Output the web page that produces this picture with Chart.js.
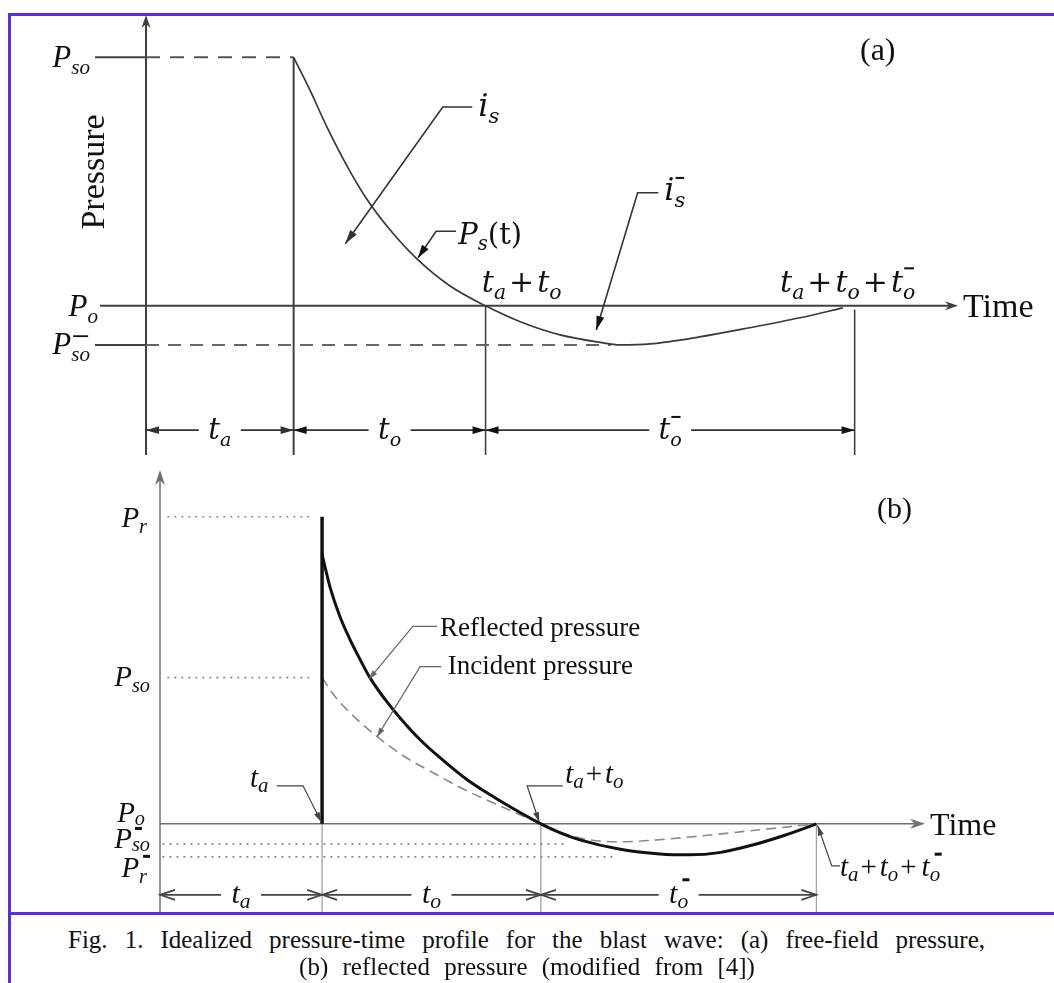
<!DOCTYPE html>
<html><head><meta charset="utf-8">
<script src="https://cdn.jsdelivr.net/npm/chart.js@4.4.1/dist/chart.umd.min.js"></script>
<style>
html,body{margin:0;padding:0;background:#fff;}
#wrap{position:relative;width:1054px;height:983px;overflow:hidden;background:#fff;}
canvas{position:absolute;left:0;}
.fr{position:absolute;background:#5b2ee6;}
.cap{position:absolute;font-family:"Liberation Serif","Times New Roman",serif;font-size:25px;line-height:28px;color:#111;white-space:nowrap;}
.pre{position:absolute;left:-999px;top:0;font-size:20px;}
</style></head><body>
<div id="wrap">
<span class="pre" style="font-family:'Liberation Serif'">Aa</span>
<span class="pre" style="font-family:'Liberation Serif';font-style:italic">Aa</span>
<span class="pre" style="font-family:'DejaVu Serif'">Aa</span>
<span class="pre" style="font-family:'DejaVu Serif';font-style:italic">Aa</span>
<canvas id="ca" width="1054" height="470" style="top:0"></canvas>
<canvas id="cb" width="1054" height="460" style="top:460px"></canvas>
<div class="fr" style="left:8px;top:13px;width:1046px;height:3px"></div>
<div class="fr" style="left:8px;top:13px;width:3px;height:970px"></div>
<div class="fr" style="left:8px;top:912px;width:1046px;height:3px"></div>
<div class="cap" id="cap1" style="left:68px;top:926px;width:917px;text-align:justify;text-align-last:justify;white-space:normal">Fig. 1. Idealized pressure-time profile for the blast wave: (a) free-field pressure,</div>
<div class="cap" id="cap2" style="left:0;top:953px;width:1054px;text-align:center;word-spacing:8px">(b) reflected pressure (modified from [4])</div>
</div>
<script>
// ---------------- DATA: panel (a) free-field ----------------
const A_X = [0, 11];            // time range (arbitrary units)
const A_Y = [-0.6, 1.17];       // pressure range (P_so = 1)
const A_TA = 2.0, A_TO = 2.6, A_TON = 5.0;
const A_PSO = 1.0, A_PSON = -0.157, A_DASH_END = 6.3;
const A_T = [2.0, 2.22, 2.45, 2.76, 2.99, 3.305, 3.67, 4.12, 4.6, 5.07, 5.61, 6.15, 6.42, 6.83, 7.5, 8.18, 8.86, 9.44];
const A_P = [1.0, 0.869, 0.72, 0.543, 0.43, 0.306, 0.189, 0.08, 0.0, -0.064, -0.117, -0.147, -0.157, -0.153, -0.125, -0.088, -0.048, -0.008];

// ---------------- DATA: panel (b) reflected ----------------
const B_X = [0, 9.44];
const B_Y = [-0.61, 2.42];
const B_TA = 2.0, B_TO = 2.7, B_TON = 3.4;
const B_PR = 2.1, B_PSO = 1.0, B_PSON = -0.137, B_PRN = -0.226;
const B_PSON_END = 5.0, B_PRN_END = 5.6;
const B_REF_T = [2.0, 2.10, 2.22, 2.345, 2.47, 2.59, 2.78, 2.96, 3.21, 3.455, 3.79, 4.195, 4.7, 4.94, 5.18, 5.68, 6.17, 6.54, 6.9, 7.3, 7.7, 8.1];
const B_REF_P = [1.842, 1.616, 1.418, 1.26, 1.123, 1.0, 0.849, 0.726, 0.575, 0.452, 0.301, 0.158, 0.0, -0.062, -0.11, -0.174, -0.206, -0.212, -0.197, -0.147, -0.08, 0.0];
const B_INC_T = [2.0, 2.16, 2.345, 2.68, 3.02, 3.37, 3.76, 4.195, 4.7, 5.0, 5.31, 5.68, 6.42, 7.28, 8.1];
const B_INC_P = [1.0, 0.87, 0.76, 0.596, 0.459, 0.349, 0.233, 0.123, 0.0, -0.068, -0.11, -0.123, -0.096, -0.048, 0.0];

// ---------------- helpers ----------------
const SERIF = '"Liberation Serif","Times New Roman",serif';
const DJ = '"DejaVu Serif",serif';
function seg(ctx, x1, y1, x2, y2){ctx.beginPath();ctx.moveTo(x1,y1);ctx.lineTo(x2,y2);ctx.stroke();}
function poly(ctx, pts){ctx.beginPath();ctx.moveTo(pts[0][0],pts[0][1]);for(let i=1;i<pts.length;i++)ctx.lineTo(pts[i][0],pts[i][1]);ctx.stroke();}
function head(ctx, x1, y1, x2, y2, len, hw, style){
  const a=Math.atan2(y2-y1,x2-x1), c=Math.cos(a), s=Math.sin(a);
  const bx=x2-len*c, by=y2-len*s, px=-s*hw, py=c*hw;
  ctx.beginPath();
  if(style==='open'){ctx.moveTo(bx+px,by+py);ctx.lineTo(x2,y2);ctx.lineTo(bx-px,by-py);ctx.stroke();return;}
  ctx.moveTo(x2,y2);ctx.lineTo(bx+px,by+py);
  if(style==='concave'){ctx.lineTo(x2-len*0.7*c,y2-len*0.7*s);}
  ctx.lineTo(bx-px,by-py);ctx.closePath();ctx.fill();
}
function mtext(ctx, x, y, spec, o){
  const size=o.size, fam=o.fam||SERIF, ss=size*(o.subScale||0.68), sdy=size*(o.subDy||0.22);
  const parts=spec.map(s=>{const i=s.indexOf(':');return {k:s.slice(0,i),t:s.slice(i+1)};});
  let w=0;
  for(const p of parts){
    if(p.k==='g'){p.w=+p.t;p.skip=true;}
    else{
      p.bar=p.k.indexOf('^')>=0; const k=p.k.replace('^','');
      p.font = k==='r' ? size+'px '+fam : k==='s' ? 'italic '+ss+'px '+fam : 'italic '+size+'px '+fam;
      p.dy = k==='s' ? sdy : 0;
      ctx.font=p.font; p.w=ctx.measureText(p.t).width;
    }
    p.x=w; w+=p.w;
  }
  const x0 = o.align==='right' ? x-w : o.align==='center' ? x-w/2 : x;
  ctx.fillStyle=o.color||'#111'; ctx.textAlign='left'; ctx.textBaseline='alphabetic';
  for(const p of parts){
    if(p.skip) continue;
    ctx.font=p.font; ctx.fillText(p.t,x0+p.x,y+p.dy);
    if(p.bar){
      const bw=o.barW||p.w*0.8;
      const bx=x0+p.x+(o.barX!=null?o.barX:(p.w-bw)/2);
      ctx.fillRect(bx, y-size*(o.barY||0.62), bw, o.barT||1.6);
    }
  }
  return w;
}
function dim(ctx, xa, xb, y, spec, o){
  const xc=(xa+xb)/2, g=o.gap;
  seg(ctx, xa, y, xc-g, y); seg(ctx, xc+g, y, xb, y);
  head(ctx, xc, y, xa, y, o.len, o.hw, o.style);
  head(ctx, xc, y, xb, y, o.len, o.hw, o.style);
  mtext(ctx, xc, y+o.ty, spec, Object.assign({align:'center'}, o.txt));
}
function rotText(ctx, x, y, t, font, color){
  ctx.save(); ctx.translate(x,y); ctx.rotate(-Math.PI/2);
  ctx.font=font; ctx.fillStyle=color; ctx.textAlign='center'; ctx.textBaseline='middle';
  ctx.fillText(t,0,0); ctx.restore();
}
function pts(T,P){return T.map((t,i)=>({x:t,y:P[i]}));}

// ---------------- panel (a) decorations ----------------
const annA = {
  id:'annA',
  beforeDatasetsDraw(c){
    const ctx=c.ctx, X=v=>c.scales.x.getPixelForValue(v), Y=v=>c.scales.y.getPixelForValue(v);
    ctx.save(); const ink='#404040'; ctx.strokeStyle=ink; ctx.fillStyle=ink; ctx.lineWidth=2;
    const x0=X(0), yb=Y(A_Y[0]), yt=Y(A_Y[1]), y0=Y(0);
    seg(ctx,x0,yb,x0,yt+6); head(ctx,x0,yb,x0,yt,13,4.5,'concave');
    seg(ctx,x0-46,y0,X(A_X[1])-6,y0); head(ctx,x0,y0,X(A_X[1]),y0,13,4.5,'concave');
    seg(ctx,x0-51,Y(A_PSO),x0,Y(A_PSO));
    seg(ctx,x0-51,Y(A_PSON),x0,Y(A_PSON));
    ctx.lineWidth=2; seg(ctx,X(A_TA),Y(A_PSO),X(A_TA),yb);
    ctx.lineWidth=1.6; seg(ctx,X(A_TA+A_TO),y0,X(A_TA+A_TO),yb);
    seg(ctx,X(A_TA+A_TO+A_TON),Y(-0.015),X(A_TA+A_TO+A_TON),yb);
    ctx.restore();
  },
  afterDatasetsDraw(c){
    const ctx=c.ctx, X=v=>c.scales.x.getPixelForValue(v), Y=v=>c.scales.y.getPixelForValue(v);
    ctx.save(); const ink='#333'; ctx.strokeStyle=ink; ctx.fillStyle=ink; ctx.lineWidth=1.6;
    const x0=X(0), txt='#111';
    mtext(ctx,x0-56,Y(A_PSO)+10,['i:P','s:so'],{size:31,align:'right',color:txt});
    mtext(ctx,x0-48,Y(0)+10,['i:P','s:o'],{size:31,align:'right',color:txt});
    mtext(ctx,x0-56,Y(A_PSON)+9,['i:P','s^:so'],{size:31,align:'right',color:txt,barY:0.6,barW:15,barT:1.8});
    rotText(ctx,95,172,'Pressure','34px '+SERIF,txt);
    ctx.font='34px '+SERIF; ctx.fillStyle=txt; ctx.textAlign='left'; ctx.textBaseline='alphabetic';
    ctx.fillText('Time',X(A_X[1])+5,Y(0)+11);
    ctx.font='32px '+SERIF; ctx.fillText('(a)',860,60);
    ctx.fillStyle=ink; ctx.strokeStyle=ink; ctx.lineWidth=1.6;
    const yd=Y(-0.5), dopt={gap:21,len:13,hw:3.8,style:'fill',ty:9,txt:{size:29,fam:DJ,color:txt,subScale:0.66,subDy:0.25,barY:0.8,barT:2}};
    dim(ctx,X(0),X(A_TA),yd,['i:t','s:a'],dopt);
    dim(ctx,X(A_TA),X(A_TA+A_TO),yd,['i:t','s:o'],dopt);
    dim(ctx,X(A_TA+A_TO),X(A_TA+A_TO+A_TON),yd,['i:t','s^:o'],dopt);
    ctx.fillStyle=ink;
    let L=[[X(4.42),Y(0.80)],[X(4.02),Y(0.80)],[X(2.70),Y(0.25)]];
    poly(ctx,L); head(ctx,L[1][0],L[1][1],L[2][0],L[2][1],14,4,'fill');
    mtext(ctx,X(4.50),Y(0.764),['i:i','s:s'],{size:32,fam:DJ,color:txt,subScale:0.66});
    L=[[X(4.20),Y(0.30)],[X(3.93),Y(0.30)],[X(3.685),Y(0.193)]];
    poly(ctx,L); head(ctx,L[1][0],L[1][1],L[2][0],L[2][1],13,4,'fill');
    mtext(ctx,X(4.23),Y(0.25),['i:P','s:s','r:(t)'],{size:29,fam:DJ,color:txt,subScale:0.68});
    L=[[X(6.94),Y(0.455)],[X(6.66),Y(0.455)],[X(6.10),Y(-0.097)]];
    poly(ctx,L); head(ctx,L[1][0],L[1][1],L[2][0],L[2][1],14,4,'fill');
    mtext(ctx,X(7.02),Y(0.426),['i:i','s^:s'],{size:32,fam:DJ,color:txt,subScale:0.66,barY:0.72,barT:2});
    mtext(ctx,X(4.55),Y(0.056),['i:t','s:a','g:3','r:+','g:3','i:t','s:o'],{size:30,fam:DJ,color:txt,subScale:0.68});
    mtext(ctx,X(8.59),Y(0.056),['i:t','s:a','g:3','r:+','g:3','i:t','s:o','g:3','r:+','g:3','i:t','s^:o'],{size:30,fam:DJ,color:txt,subScale:0.68,barY:0.82,barT:2});
    ctx.restore();
  }
};

// ---------------- panel (b) decorations ----------------
const annB = {
  id:'annB',
  beforeDatasetsDraw(c){
    const ctx=c.ctx, X=v=>c.scales.x.getPixelForValue(v), Y=v=>c.scales.y.getPixelForValue(v);
    ctx.save(); const ax='#707070'; ctx.strokeStyle=ax; ctx.fillStyle=ax; ctx.lineWidth=1.5;
    const x0=X(0), yb=Y(B_Y[0]), yt=Y(B_Y[1]), y0=Y(0);
    seg(ctx,x0,yb,x0,yt+6); head(ctx,x0,yb,x0,yt,15,5,'concave');
    seg(ctx,x0,y0,X(B_X[1])-6,y0); head(ctx,x0,y0,X(B_X[1]),y0,15,5,'concave');
    ctx.strokeStyle='#a0a0a0'; ctx.lineWidth=1.3;
    seg(ctx,X(B_TA),y0,X(B_TA),yb);
    seg(ctx,X(B_TA+B_TO),y0,X(B_TA+B_TO),yb);
    seg(ctx,X(B_TA+B_TO+B_TON),y0,X(B_TA+B_TO+B_TON),yb);
    ctx.restore();
  },
  afterDatasetsDraw(c){
    const ctx=c.ctx, X=v=>c.scales.x.getPixelForValue(v), Y=v=>c.scales.y.getPixelForValue(v);
    ctx.save(); const txt='#111', x0=X(0);
    mtext(ctx,x0-13,Y(B_PR)+10,['i:P','s:r'],{size:29,align:'right',color:txt,subScale:0.7});
    mtext(ctx,x0-10,Y(B_PSO)+8,['i:P','s:so'],{size:29,align:'right',color:txt,subScale:0.7});
    mtext(ctx,x0-15,Y(0)-2,['i:P','s:o'],{size:29,align:'right',color:txt,subScale:0.7,subDy:0.12});
    mtext(ctx,x0-10,Y(B_PSON)+4,['i:P','s^:so'],{size:29,align:'right',color:txt,subScale:0.7,subDy:0.12,barW:7,barX:3,barT:3,barY:0.72});
    mtext(ctx,x0-13,Y(B_PRN)+20,['i:P','s^:r'],{size:29,align:'right',color:txt,subScale:0.7,barW:7,barX:4,barT:3,barY:0.76});
    rotText(ctx,88,645,'Pressure','26px '+SERIF,txt);
    ctx.font='32px '+SERIF; ctx.fillStyle=txt; ctx.textAlign='left'; ctx.textBaseline='alphabetic';
    ctx.fillText('Time',X(B_X[1])+5,Y(0)+11);
    ctx.font='30px '+SERIF; ctx.fillText('(b)',877,58);
    ctx.font='27px '+SERIF;
    ctx.fillText('Reflected pressure',X(3.455),Y(1.288));
    ctx.fillText('Incident pressure',X(3.55),Y(1.027));
    const lc='#666'; ctx.strokeStyle=lc; ctx.fillStyle=lc; ctx.lineWidth=1.2;
    let L=[[X(3.42),Y(1.35)],[X(3.12),Y(1.35)],[X(2.58),Y(0.99)]];
    poly(ctx,L); head(ctx,L[1][0],L[1][1],L[2][0],L[2][1],9,3,'fill');
    L=[[X(3.47),Y(1.075)],[X(3.21),Y(1.075)],[X(2.68),Y(0.596)]];
    poly(ctx,L); head(ctx,L[1][0],L[1][1],L[2][0],L[2][1],9,3,'fill');
    ctx.strokeStyle='#444'; ctx.fillStyle='#444';
    L=[[X(1.44),Y(0.26)],[X(1.765),Y(0.26)],[X(1.99),Y(0.012)]];
    poly(ctx,L); head(ctx,L[1][0],L[1][1],L[2][0],L[2][1],10,3,'fill');
    L=[[X(4.97),Y(0.26)],[X(4.53),Y(0.26)],[X(4.68),Y(0.012)]];
    poly(ctx,L); head(ctx,L[1][0],L[1][1],L[2][0],L[2][1],10,3,'fill');
    L=[[X(8.39),Y(-0.288)],[X(8.29),Y(-0.288)],[X(8.115),Y(-0.012)]];
    poly(ctx,L); head(ctx,L[1][0],L[1][1],L[2][0],L[2][1],10,3,'fill');
    mtext(ctx,X(1.11),Y(0.253),['i:t','s:a'],{size:29,color:txt,subScale:0.72,subDy:0.18});
    mtext(ctx,X(5.0),Y(0.28),['i:t','s:a','g:2','r:+','g:3','i:t','s:o'],{size:29,color:txt,subScale:0.72,subDy:0.18});
    mtext(ctx,X(8.39),Y(-0.356),['i:t','s:a','g:2','r:+','g:3','i:t','s:o','g:2','r:+','g:5','i:t','s^:o'],{size:29,color:txt,subScale:0.72,subDy:0.18,barW:7,barX:5,barT:3,barY:0.8});
    ctx.strokeStyle='#444'; ctx.fillStyle='#444'; ctx.lineWidth=1.6;
    const yd=Y(-0.486), dopt={gap:20,len:15,hw:5,style:'open',ty:8,txt:{size:30,color:txt,subScale:0.72,subDy:0.18,barW:7,barX:5,barT:3,barY:0.82}};
    dim(ctx,X(0),X(B_TA),yd,['i:t','s:a'],dopt);
    dim(ctx,X(B_TA),X(B_TA+B_TO),yd,['i:t','s:o'],dopt);
    dim(ctx,X(B_TA+B_TO),X(B_TA+B_TO+B_TON),yd,['i:t','s^:o'],dopt);
    ctx.restore();
  }
};

const common = (pad, xr, yr) => ({
  responsive:false, animation:false, events:[],
  layout:{padding:pad},
  plugins:{legend:{display:false}, tooltip:{enabled:false}},
  scales:{x:{type:'linear',display:false,min:xr[0],max:xr[1]}, y:{type:'linear',display:false,min:yr[0],max:yr[1]}}
});

function build(){
  new Chart(document.getElementById('ca'), {
    type:'scatter',
    data:{datasets:[
      {data:pts(A_T,A_P), showLine:true, borderColor:'#3a3a3a', borderWidth:1.7, pointRadius:0, cubicInterpolationMode:'monotone', clip:false},
      {data:[{x:0,y:A_PSO},{x:A_TA,y:A_PSO}], showLine:true, borderColor:'#555', borderWidth:2, borderDash:[14,10], pointRadius:0, clip:false},
      {data:[{x:0,y:A_PSON},{x:A_DASH_END,y:A_PSON}], showLine:true, borderColor:'#666', borderWidth:2, borderDash:[13,9], pointRadius:0, clip:false}
    ]},
    options:common({left:146,right:96,top:15,bottom:15}, A_X, A_Y),
    plugins:[annA]
  });
  new Chart(document.getElementById('cb'), {
    type:'scatter',
    data:{datasets:[
      {data:pts(B_REF_T,B_REF_P), showLine:true, borderColor:'#111', borderWidth:3, pointRadius:0, cubicInterpolationMode:'monotone', clip:false},
      {data:[{x:B_TA,y:0},{x:B_TA,y:B_PR}], showLine:true, borderColor:'#111', borderWidth:3.5, pointRadius:0, clip:false},
      {data:pts(B_INC_T,B_INC_P), showLine:true, borderColor:'#8a8a8a', borderWidth:1.6, borderDash:[10,6], pointRadius:0, cubicInterpolationMode:'monotone', clip:false},
      {data:[{x:0.09,y:B_PR},{x:B_TA-0.1,y:B_PR}], showLine:true, borderColor:'#8a8a8a', borderWidth:1.6, borderDash:[2,5], pointRadius:0, clip:false},
      {data:[{x:0.09,y:B_PSO},{x:B_TA-0.1,y:B_PSO}], showLine:true, borderColor:'#8a8a8a', borderWidth:1.6, borderDash:[2,5], pointRadius:0, clip:false},
      {data:[{x:0.03,y:B_PSON},{x:B_PSON_END,y:B_PSON}], showLine:true, borderColor:'#8a8a8a', borderWidth:1.6, borderDash:[2,5], pointRadius:0, clip:false},
      {data:[{x:0.03,y:B_PRN},{x:B_PRN_END,y:B_PRN}], showLine:true, borderColor:'#8a8a8a', borderWidth:1.6, borderDash:[2,5], pointRadius:0, clip:false}
    ]},
    options:common({left:160,right:129,top:10,bottom:7}, B_X, B_Y),
    plugins:[annB]
  });
}
const fl = ['34px "Liberation Serif"','italic 30px "Liberation Serif"','30px "DejaVu Serif"','italic 30px "DejaVu Serif"'];
Promise.all(fl.map(f=>document.fonts.load(f).catch(()=>null))).then(()=>document.fonts.ready).then(build, build);
</script>
</body></html>
